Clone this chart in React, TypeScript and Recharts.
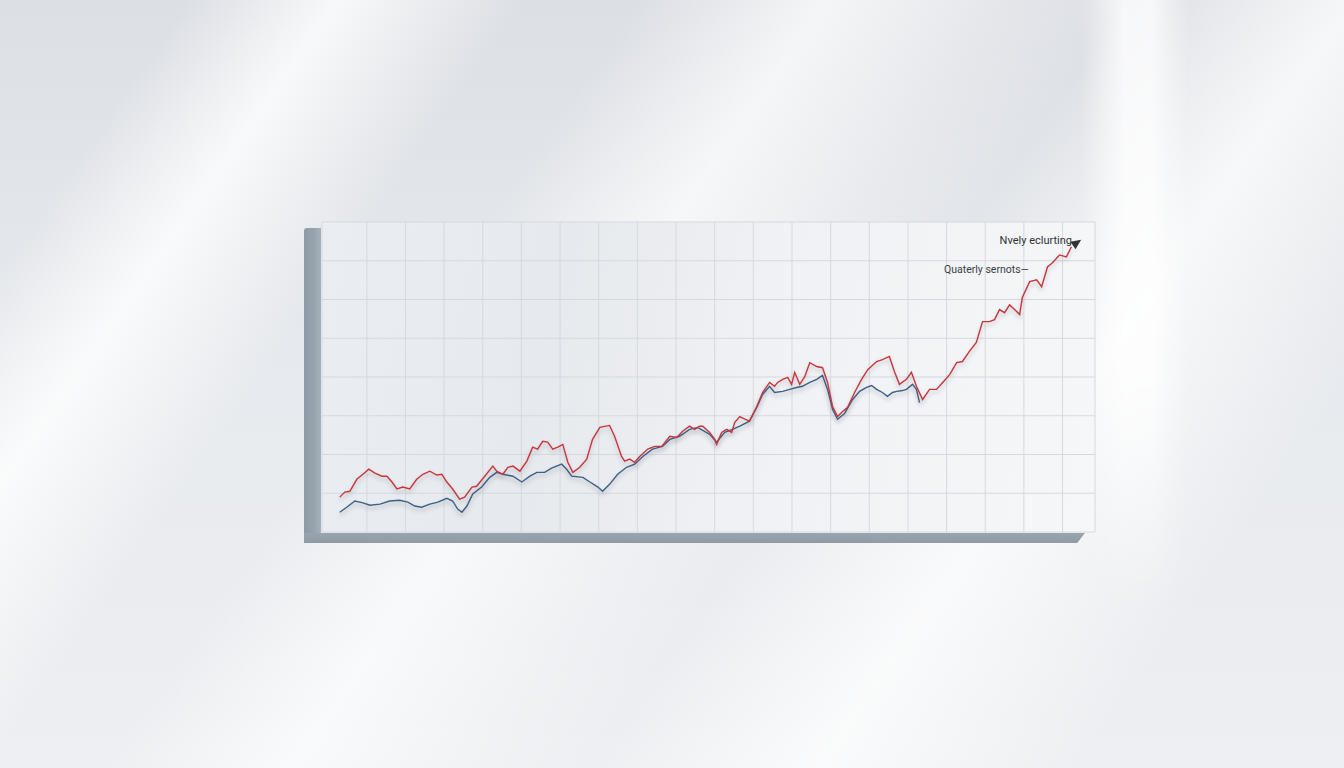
import React from "react";
import { LineChart, Line, XAxis, YAxis, CartesianGrid } from "recharts";

// x: time units (grid every 10), y: value units (grid every 10)
const redX = [-7.0,-5.7,-4.4,-2.6,-1.0,0.5,2.1,3.9,5.2,6.5,7.8,9.3,11.1,12.9,14.5,16.3,18.1,19.4,20.7,22.2,24.0,25.3,27.2,28.4,30.5,32.6,33.6,35.2,36.5,37.8,39.6,41.4,42.9,44.2,45.5,46.8,48.1,49.4,50.7,52.0,53.3,55.1,56.9,58.4,60.3,62.8,64.1,65.9,66.7,68.0,69.3,70.6,72.7,74.5,76.3,78.4,80.2,81.7,83.5,84.8,86.1,86.9,88.7,90.0,90.5,91.8,93.1,94.4,95.2,96.5,97.8,99.0,100.9,102.4,104.2,105.5,106.3,107.6,108.9,109.9,110.7,112.0,113.3,114.6,116.4,117.9,119.2,120.5,121.8,123.1,124.4,126.2,128.0,129.6,131.9,133.4,135.2,136.5,137.8,139.6,140.9,142.2,143.8,145.6,147.4,149.0,150.8,152.6,154.1,155.9,157.7,159.3,161.1,162.4,163.7,165.0,166.3,167.6,168.9,169.6,171.5,173.3,174.6,176.1,177.4,179.2,181.0,182.3];
const redY = [9.0,10.3,10.5,13.6,14.9,16.2,15.2,14.4,14.4,12.9,11.1,11.6,11.1,13.6,14.9,15.7,14.7,14.9,12.9,11.1,8.5,9.0,11.6,11.8,14.4,17.0,15.7,14.9,16.7,17.0,15.7,18.3,21.9,21.4,23.4,23.2,21.4,21.9,22.6,18.0,15.4,16.7,18.8,23.9,27.0,27.5,24.7,19.5,18.3,18.8,18.0,19.5,21.4,22.1,22.1,24.7,24.4,26.0,27.3,26.5,27.3,27.3,25.7,23.9,22.6,25.7,26.5,25.7,28.3,29.8,29.1,28.6,32.4,36.0,38.6,37.6,38.6,39.4,39.9,38.1,41.2,38.1,40.1,43.7,42.7,42.4,38.6,32.4,29.8,31.1,32.2,36.0,39.4,41.9,44.0,44.5,45.3,41.4,38.1,39.4,41.2,37.6,34.2,36.8,36.8,38.6,40.6,43.7,44.0,46.6,48.9,54.3,54.3,54.8,57.4,56.6,58.6,57.4,56.1,60.5,64.6,65.1,63.3,68.4,69.5,71.5,71.0,73.6];

const blueX = [-7.0,-5.2,-3.1,-1.0,0.8,3.4,5.9,8.5,10.6,12.4,14.2,16.3,18.4,20.7,22.2,23.5,24.6,25.9,27.4,29.7,31.8,33.6,35.2,37.8,40.1,42.2,44.0,46.0,47.8,50.4,51.7,53.0,55.9,57.7,59.8,61.0,62.8,64.9,67.2,69.3,71.4,73.9,76.5,78.4,80.9,83.5,85.6,88.7,90.5,92.6,94.6,96.5,99.0,100.9,102.4,104.2,105.5,107.6,109.4,111.2,112.7,114.6,116.4,117.9,119.2,120.5,121.8,123.6,125.7,127.5,129.3,130.6,131.9,133.4,134.7,136.0,137.1,138.6,139.6,141.2,142.2,143.0];
const blueY = [5.1,6.4,8.0,7.5,6.9,7.2,8.0,8.2,7.7,6.7,6.4,7.2,7.7,8.7,8.0,5.9,5.1,6.7,9.8,11.6,14.1,15.4,14.9,14.4,12.9,14.4,15.4,15.4,16.5,17.5,16.2,14.4,14.1,12.9,11.6,10.5,12.3,14.9,16.7,17.5,19.5,21.4,22.1,23.9,24.7,26.5,27.0,25.2,23.2,25.7,26.5,27.3,28.6,32.2,35.5,37.6,36.0,36.3,36.8,37.3,37.6,38.6,39.4,40.4,36.8,31.6,29.1,30.6,34.2,36.3,37.3,37.8,36.8,36.0,35.0,36.0,36.3,36.5,36.8,38.1,36.8,33.4];

const xTicks = [0,10,20,30,40,50,60,70,80,90,100,110,120,130,140,150,160,170,180];
const yTicks = [0,10,20,30,40,50,60,70,80];
const labelTop = "Nvely eclurting";
const labelSecond = "Quaterly sernots\u2014";

const redData = redX.map((x, i) => ({ x, v: redY[i] }));
const blueData = blueX.map((x, i) => ({ x, v: blueY[i] }));

const ArrowDot = (props: any) => {
  const { cx, cy, index } = props;
  if (index !== redData.length - 1) return <g key={"d" + index} />;
  return (
    <g key={"d" + index} transform={`translate(${cx + 4},${cy - 3}) rotate(-35)`}>
      <polygon points="-3,-4.5 7,0 -3,4.5" fill="#2f3338" />
    </g>
  );
};

const EmptyTick = () => <g />;

export default function App() {
  return (
    <div
      style={{
        position: "fixed",
        left: 0,
        top: 0,
        width: 1344,
        height: 768,
        overflow: "hidden",
        background:
          "linear-gradient(125deg, rgba(255,255,255,0) 0%, rgba(255,255,255,0) 10%, rgba(255,255,255,0.8) 18%, rgba(255,255,255,0) 28%, rgba(255,255,255,0) 34%, rgba(255,255,255,0.7) 44%, rgba(255,255,255,0.2) 54%, rgba(255,255,255,0) 60%, rgba(255,255,255,0.75) 72%, rgba(255,255,255,0) 86%), linear-gradient(180deg, #dcdfe4 0%, #e7eaee 50%, #edeff2 100%)",
      }}
    >
      {/* right vertical soft light strip */}
      <div style={{ position: "absolute", left: 1080, top: 0, width: 110, height: 620, background: "linear-gradient(90deg, rgba(255,255,255,0), rgba(255,255,255,0.75) 40%, rgba(255,255,255,0.75) 65%, rgba(255,255,255,0))", WebkitMaskImage: "linear-gradient(180deg, #000 0%, #000 60%, transparent 100%)", maskImage: "linear-gradient(180deg, #000 0%, #000 60%, transparent 100%)" }} />
      {/* panel */}
      <div
        style={{
          position: "absolute",
          left: 321,
          top: 222,
          width: 774,
          height: 311,
          background: "linear-gradient(100deg, #eaedf1 0%, #e6e9ed 30%, #eff1f4 55%, #f6f7f9 100%)",
        }}
      />
      {/* left bar */}
      <div style={{ position: "absolute", left: 304, top: 228, width: 17, height: 315, background: "linear-gradient(90deg, #8d9ba6, #97a4ae 60%, #a6b1ba)", borderTopLeftRadius: 3 }} />
      {/* bottom bar */}
      <div style={{ position: "absolute", left: 304, top: 533, width: 781, height: 10, background: "linear-gradient(180deg, #98a5ae, #8e9ba5)", clipPath: "polygon(0 0, 100% 0, 99% 100%, 0 100%)" }} />
      <div style={{ position: "absolute", left: 0, top: 0 }}>
        <LineChart
          width={1344}
          height={768}
          margin={{ left: 321, top: 222, right: 249, bottom: 235 }}
        >
          <CartesianGrid stroke="#d5d9de" strokeWidth={1} />
          <XAxis
            type="number"
            dataKey="x"
            domain={[-11.6, 188.4]}
            ticks={xTicks}
            interval={0}
            allowDataOverflow
            tick={EmptyTick}
            axisLine={false}
            tickLine={false}
            height={1}
          />
          <YAxis
            type="number"
            domain={[0, 80]}
            ticks={yTicks}
            interval={0}
            tick={EmptyTick}
            axisLine={false}
            tickLine={false}
            width={1}
          />
          <Line
            data={blueData}
            dataKey="v"
            type="linear"
            stroke="#3f5f86"
            strokeWidth={1.4}
            dot={false}
            isAnimationActive={false}
            style={{ filter: "drop-shadow(0px 3px 2px rgba(70,80,95,0.35))" }}
          />
          <Line
            data={redData}
            dataKey="v"
            type="linear"
            stroke="#c8353a"
            strokeWidth={1.4}
            dot={ArrowDot}
            isAnimationActive={false}
            style={{ filter: "drop-shadow(0px 3px 2px rgba(70,80,95,0.3))" }}
          />
        </LineChart>
      </div>
      <div style={{ position: "absolute", left: 960, top: 234, width: 112, textAlign: "right", fontFamily: "Roboto, 'DejaVu Sans', sans-serif", fontSize: 11, color: "#2e3236", whiteSpace: "nowrap" }}>
        {labelTop}
      </div>
      <div style={{ position: "absolute", left: 944, top: 263, fontFamily: "Roboto, 'DejaVu Sans', sans-serif", fontSize: 10.5, color: "#3a3e43", whiteSpace: "nowrap" }}>
        {labelSecond}
      </div>
    </div>
  );
}
